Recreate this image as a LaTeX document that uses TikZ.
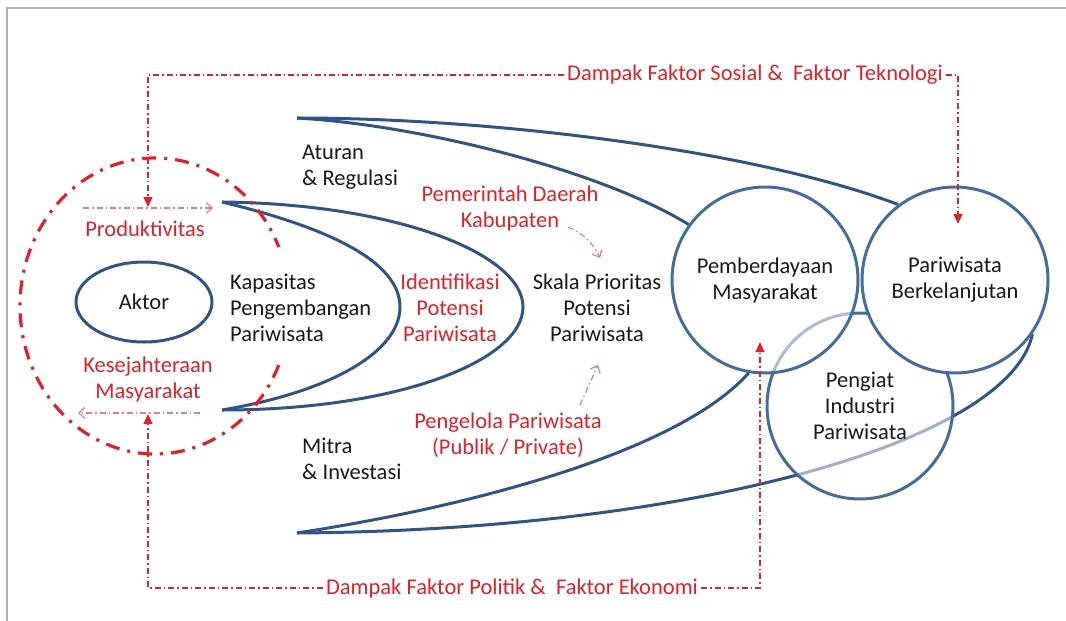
\documentclass[tikz,border=0pt]{standalone}
\usepackage{fontspec}
\setmainfont{Carlito}
\usetikzlibrary{shapes.geometric,arrows.meta,backgrounds}
\definecolor{bandColor}{RGB}{47,84,140}
\definecolor{ringColor}{RGB}{68,108,160}
\definecolor{dampakColor}{RGB}{226,32,38}
\definecolor{frameColor}{RGB}{178,178,178}
\definecolor{teksColor}{RGB}{25,25,25}

\begin{document}
\begin{tikzpicture}[x=1pt,y=-1pt,
font=\fontsize{22.5}{26}\selectfont,
teks/.style={
    text=teksColor, align=left, inner sep=0pt},
teksMerah/.style={
    text=dampakColor, align=center, inner sep=0pt},
band/.style={
    draw=bandColor, line width=3pt},
ring/.style={
    circle, draw=ringColor, line width=3pt, minimum size=186pt,
    align=center, text=teksColor, inner sep=0pt},
dampak/.style={
    dampakColor, line width=1.2pt,
    dash pattern=on 6pt off 3pt on 1.5pt off 3pt},
arus/.style={
    dampakColor!60, line width=1.2pt,
    dash pattern=on 6pt off 3pt on 1.5pt off 3pt},
lingkar/.style={
    dampakColor, line width=3.2pt,
    dash pattern=on 14pt off 8pt on 3pt off 8pt}
]
\useasboundingbox (0,0) rectangle (1066,621);

% bingkai
\coordinate (rangkaKiri) at (7,621);
\coordinate (rangkaSudut) at (7,8);
\coordinate (rangkaKanan) at (1066,8);
\draw[frameColor, line width=2pt] (rangkaKiri) -- (rangkaSudut) -- (rangkaKanan);

% lingkaran
\node[ring, fill=white, fill opacity=0.55, text opacity=1]
        at (860,406) (pengiat) {Pengiat\\Industri\\Pariwisata};
\node[ring, fill=white, fill opacity=0.55, text opacity=1]
        at (765,280) (pemberdayaan) {Pemberdayaan\\Masyarakat};
\node[ring, fill=white]
        at (955,280) (berkelanjutan) {Pariwisata\\Berkelanjutan};

\node[ellipse, draw=bandColor, line width=3pt, minimum width=136pt,
      minimum height=80pt, text=teksColor] at (144,302) (aktor) {Aktor};

% ujung kurva
\coordinate (kapAtas) at (222,202);
\coordinate (kapBawah) at (222,410);
\coordinate (kapUjung) at (523,307);
\coordinate (idUjung) at (400,307);
\coordinate (besarAtas) at (297,118);
\coordinate (besarBawah) at (297,533);

\begin{scope}[on background layer]
    \draw[band] (kapAtas) .. controls (400,204) and (523,255) .. (kapUjung)
                          .. controls (523,360) and (400,410) .. (kapBawah);
    \draw[band] (kapAtas) .. controls (330,228) and (400,262) .. (idUjung)
                          .. controls (400,352) and (330,392) .. (kapBawah);
    \draw[band] (besarAtas) .. controls (500,118) and (760,152) .. (berkelanjutan.127.7);
    \draw[band] (besarAtas) .. controls (420,125) and (600,170) .. (pemberdayaan.144.5);
    \draw[band] (besarBawah) .. controls (480,505) and (680,450) .. (pemberdayaan.260.8);
    \draw[band] (besarBawah) .. controls (700,530) and (1010,440) .. (berkelanjutan.325.3);
\end{scope}

% teks
\node[teks, anchor=west] at (302,167) (aturan) {Aturan\\\& Regulasi};
\node[teks, anchor=west] at (302,459) (mitra) {Mitra\\\& Investasi};
\node[teks, anchor=west] at (230,308) (kapasitas) {Kapasitas\\Pengembangan\\Pariwisata};
\node[teks, align=center] at (597,308) (skala) {Skala Prioritas\\Potensi\\Pariwisata};
\node[teksMerah] at (450,308) (identifikasi) {Identifikasi\\Potensi\\Pariwisata};
\node[teksMerah] at (510,208) (pemerintah) {Pemerintah Daerah\\Kabupaten};
\node[teksMerah] at (508,435) (pengelola) {Pengelola Pariwisata\\(Publik / Private)};
\node[teksMerah] at (145,229) (produktivitas) {Produktivitas};
\node[teksMerah] at (148,379) (kesejahteraan) {Kesejahteraan\\Masyarakat};

% lingkaran putus-putus
\coordinate (lingkarAwal) at (278.8,365);
\draw[lingkar] (lingkarAwal) arc[start angle=23.5, end angle=336.5,
                               x radius=135, y radius=148];

% dampak luar
\node[teksMerah, inner sep=3pt] at (755,75) (dampakAtas)
        {Dampak Faktor Sosial \&\ \ Faktor Teknologi};
\node[teksMerah, inner sep=3pt] at (512,588) (dampakBawah)
        {Dampak Faktor Politik \&\ \ Faktor Ekonomi};

\coordinate (atasKiri) at (148,75);
\coordinate (atasKanan) at (958,75);
\coordinate (masukKiri) at (148,207);
\coordinate (masukKanan) at (958,224);
\coordinate (bawahKiri) at (148,588);
\coordinate (bawahKanan) at (760,588);
\coordinate (keluarKiri) at (148,414);
\coordinate (masukBawah) at (760,342);

\draw[dampak, -{Triangle[length=10pt,width=9pt]}]
        (dampakAtas.west) -- (atasKiri) -- (masukKiri);
\draw[dampak, -{Triangle[length=10pt,width=9pt]}]
        (dampakAtas.east) -- (atasKanan) -- (masukKanan);
\draw[dampak, -{Triangle[length=10pt,width=9pt]}]
        (dampakBawah.west) -- (bawahKiri) -- (keluarKiri);
\draw[dampak, -{Triangle[length=10pt,width=9pt]}]
        (dampakBawah.east) -- (bawahKanan) -- (masukBawah);

% panah dalam
\coordinate (prodAwal) at (83,208);
\coordinate (prodAkhir) at (213,208);
\coordinate (sejAwal) at (200,413);
\coordinate (sejAkhir) at (78,413);
\coordinate (kabAwal) at (568,227);
\coordinate (kabAkhir) at (600,258);
\coordinate (kelAwal) at (580,405);
\coordinate (kelAkhir) at (598,365);

\foreach \from/\to in {prodAwal/prodAkhir, sejAwal/sejAkhir, kelAwal/kelAkhir}
    \draw[arus, -{Straight Barb[length=6pt,width=11pt]}] (\from) -- (\to);
\draw[arus, -{Straight Barb[length=6pt,width=11pt]}] (kabAwal) to[bend left=20] (kabAkhir);

\end{tikzpicture}
\end{document}
